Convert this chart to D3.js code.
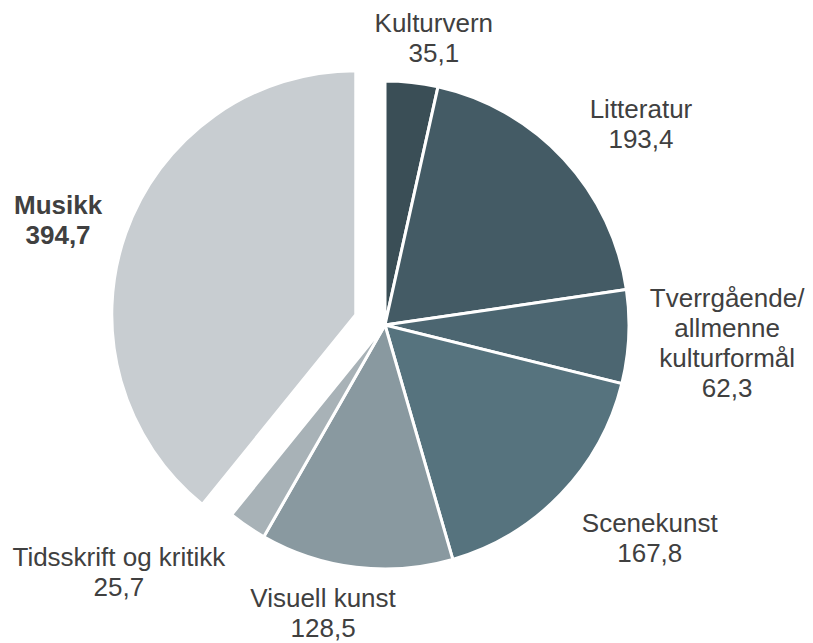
<!DOCTYPE html>
<html>
<head>
<meta charset="utf-8">
<script src="https://cdn.jsdelivr.net/npm/d3@7"></script>
<style>
  body { margin: 0; background: #fff; }
  text { font-family: 'Liberation Sans', Arial, sans-serif; font-size: 26px; fill: #404040; }
</style>
</head>
<body>
<div id="chart"></div>
<script>
const width = 813
const height = 643

// data, clockwise from 12 o'clock
const categories = ['Kulturvern', 'Litteratur', 'Tverrgående/\nallmenne\nkulturformål', 'Scenekunst', 'Visuell kunst', 'Tidsskrift og kritikk', 'Musikk']
const values = [35.1, 193.4, 62.3, 167.8, 128.5, 25.7, 394.7]
const colors = ['#3a4e56', '#445b65', '#4c6671', '#56737e', '#8999a0', '#a8b2b7', '#c8cdd1']

// which slice is pulled out and drawn bold
const highlight = 'Musikk'

// small label tweaks (Excel moves labels around a bit)
const labelNudge = [[16, 11], [20, 18], [-2, 1], [24, -19], [-26, -12], [-69, -41], [0, 11]]

const cx = 385
const cy = 325
const radius = 244
const explode = 31
const lineHeight = 30

const svg = d3.select('#chart')
  .append('svg')
  .attr('width', width)
  .attr('height', height)

const g = svg.append('g')
  .attr('transform', 'translate(' + cx + ',' + cy + ')')

const rows = categories.map((c, i) => ({ name: c, value: values[i], color: colors[i], i: i }))

const pie = d3.pie()
  .sort(null)
  .value(d => d.value)

const arc = d3.arc()
  .innerRadius(0)
  .outerRadius(radius)

const arcs = pie(rows)

function midAngle(d) {
  return (d.startAngle + d.endAngle) / 2
}

function offsetOf(d) {
  if (d.data.name !== highlight) return [0, 0]
  const a = midAngle(d)
  return [Math.sin(a) * explode, -Math.cos(a) * explode]
}

// slices
g.selectAll('path')
  .data(arcs)
  .enter()
  .append('path')
  .attr('d', arc)
  .attr('fill', d => d.data.color)
  .attr('stroke', '#fff')
  .attr('stroke-width', 3)
  .attr('stroke-linejoin', 'miter')
  .attr('transform', d => 'translate(' + offsetOf(d) + ')')

// labels
const fmt = d3.format('.1f')

const labels = g.selectAll('.label')
  .data(arcs)
  .enter()
  .append('text')
  .attr('class', 'label')
  .attr('text-anchor', 'middle')
  .style('font-weight', d => d.data.name === highlight ? 'bold' : 'normal')

labels.each(function(d) {
  const lines = d.data.name.split('\n').concat([fmt(d.data.value).replace('.', ',')])
  const t = d3.select(this)
  lines.forEach((l, k) => {
    t.append('tspan')
      .attr('x', 0)
      .attr('y', k * lineHeight)
      .text(l)
  })
  d.nLines = lines.length
})

labels.attr('transform', function(d) {
  const w = this.getBBox().width
  const h = d.nLines * lineHeight
  const a = midAngle(d)
  const s = Math.sin(a)
  const c = Math.cos(a)
  const r = radius + 20 + Math.abs(s) * w / 2 + Math.abs(c) * h / 2
  const off = offsetOf(d)
  const nudge = labelNudge[d.data.i]
  const x = off[0] + s * r + nudge[0]
  // block centre -> first baseline
  const y = off[1] - c * r + nudge[1] - (d.nLines - 1) * lineHeight / 2 + 9
  return 'translate(' + x + ',' + y + ')'
})
</script>
</body>
</html>
